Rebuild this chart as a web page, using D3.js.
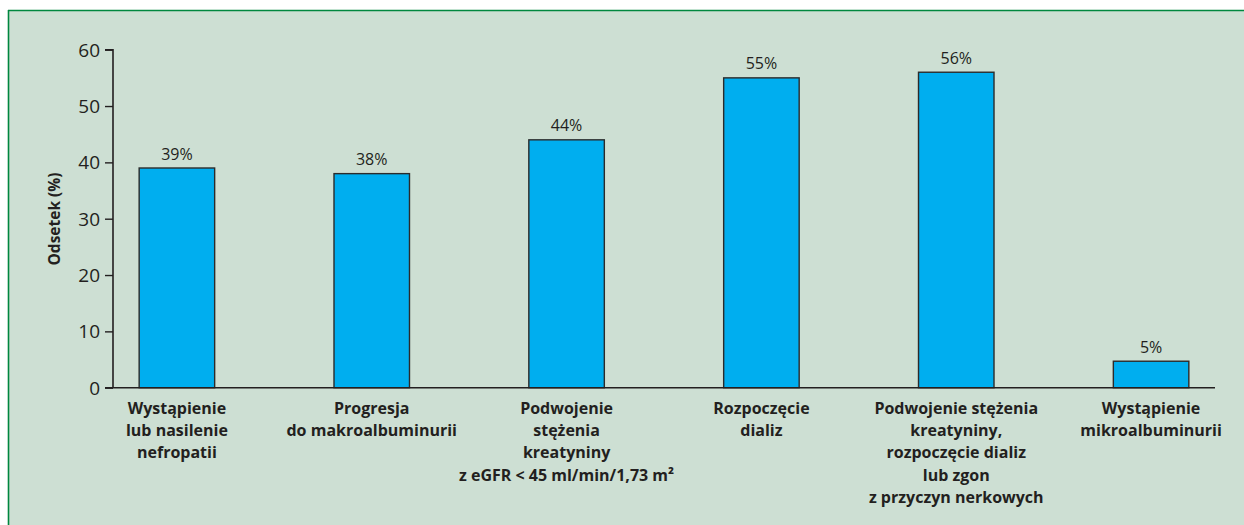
<!DOCTYPE html>
<html><head><meta charset="utf-8">
<script src="https://cdn.jsdelivr.net/npm/d3@7"></script>
<style>html,body{margin:0;padding:0;background:#fff;}svg{display:block;}</style>
</head><body>
<svg id="c" width="1244" height="525"></svg>
<script>
const categories = [
  ["Wystąpienie","lub nasilenie","nefropatii"],
  ["Progresja","do makroalbuminurii"],
  ["Podwojenie","stężenia","kreatyniny","z eGFR < 45 ml/min/1,73 m²"],
  ["Rozpoczęcie","dializ"],
  ["Podwojenie stężenia","kreatyniny,","rozpoczęcie dializ","lub zgon","z przyczyn nerkowych"],
  ["Wystąpienie","mikroalbuminurii"]
];
const values = [39, 38, 44, 55, 56, 4.7];
const valueLabels = ["39%","38%","44%","55%","56%","5%"];
const yTicks = [0,10,20,30,40,50,60];
const yTitle = "Odsetek (%)";

const svg = d3.select("#c");
const font = "'Open Sans', sans-serif";
svg.append("rect").attr("x",8).attr("y",10).attr("width",1236).attr("height",515).attr("fill","#cddfd3");
svg.append("line").attr("x1",8).attr("x2",1244).attr("y1",10.5).attr("y2",10.5).attr("stroke","#00873f").attr("stroke-width",1.6);
svg.append("line").attr("x1",8.5).attr("x2",8.5).attr("y1",10).attr("y2",525).attr("stroke","#00873f").attr("stroke-width",1.6);

const x0 = 113, x1 = 1215, yTop = 49.7, yBot = 387.7;
const x = d3.scalePoint().domain(d3.range(categories.length)).range([x0,x1]).padding(0.328);
const y = d3.scaleLinear().domain([0,60]).range([yBot,yTop]);
const bw = 75.5;

const yAxis = d3.axisLeft(y).tickValues(yTicks).tickSize(8).tickPadding(5);
const ga = svg.append("g").attr("transform",`translate(${x0},0)`).call(yAxis);
ga.select(".domain").attr("stroke","#231f20").attr("stroke-width",1.6).attr("d",`M-8,${yTop}H0V${yBot}`);
ga.selectAll(".tick line").attr("stroke","#231f20").attr("stroke-width",1.4);
ga.selectAll(".tick text").attr("font-family",font).attr("font-size",19).attr("fill","#231f20").attr("dy","0.34em");

svg.selectAll("rect.bar").data(values).join("rect").attr("class","bar")
  .attr("x",(d,i)=>x(i)-bw/2).attr("width",bw)
  .attr("y",d=>y(d)).attr("height",d=>yBot-y(d))
  .attr("fill","#00aeef").attr("stroke","#2b2b2b").attr("stroke-width",1.4);

svg.append("line").attr("x1",x0-8).attr("x2",x1).attr("y1",yBot).attr("y2",yBot).attr("stroke","#231f20").attr("stroke-width",1.6);

svg.selectAll("text.val").data(values).join("text").attr("class","val")
  .attr("x",(d,i)=>x(i)).attr("y",d=>y(d)-8.5)
  .attr("text-anchor","middle").attr("font-family",font).attr("font-size",16).attr("fill","#231f20")
  .text((d,i)=>valueLabels[i]);

const gl = svg.selectAll("text.cat").data(categories).join("text").attr("class","cat")
  .attr("text-anchor","middle").attr("font-family",font).attr("font-size",16).attr("font-weight","bold").attr("fill","#231f20");
gl.each(function(lines,i){
  d3.select(this).selectAll("tspan").data(lines).join("tspan")
    .attr("x",x(i)).attr("y",(l,j)=>414+j*22.2).text(l=>l);
});

svg.append("text").attr("transform","translate(59.5,219) rotate(-90)")
  .attr("text-anchor","middle").attr("font-family",font).attr("font-size",15.5).attr("font-weight","bold").attr("fill","#231f20")
  .text(yTitle);
</script>
</body></html>
